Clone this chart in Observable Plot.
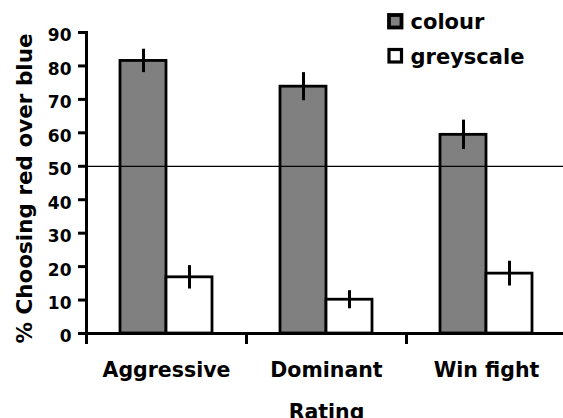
<!DOCTYPE html>
<html><head><meta charset="utf-8">
<script src="https://cdn.jsdelivr.net/npm/d3@7"></script>
<script src="https://cdn.jsdelivr.net/npm/@observablehq/plot@0.6"></script>
<style>body{margin:0;background:#fff}#chart{width:563px;height:418px}</style>
</head><body><div id="chart"></div>
<script>
const categories = ["Aggressive", "Dominant", "Win fight"];
const series = ["colour", "greyscale"];
const colourValues = [81.5, 73.8, 59.4];
const colourErrors = [3.5, 4.2, 4.4];
const greyscaleValues = [16.8, 10.1, 17.9];
const greyscaleErrors = [3.5, 2.7, 3.7];
const yTicks = [0, 10, 20, 30, 40, 50, 60, 70, 80, 90];
const referenceLine = [50];
const yLabel = "% Choosing red over blue";
const xLabel = "Rating";
const seriesColours = ["#808080", "#ffffff"];

const rows = categories.flatMap((c, i) => [
  {category: c, series: series[0], value: colourValues[i], err: colourErrors[i]},
  {category: c, series: series[1], value: greyscaleValues[i], err: greyscaleErrors[i]}
]);

const W = 563, H = 418, mTop = 32, mBottom = 85, mLeft = 85;
const innerH = H - mTop - mBottom;

const plot = Plot.plot({
  width: W, height: H,
  marginTop: mTop, marginBottom: mBottom, marginLeft: mLeft, marginRight: 0,
  style: {fontFamily: "'DejaVu Sans', sans-serif", fontWeight: "bold", background: "white", color: "black", overflow: "visible"},
  fx: {domain: categories, range: [85, 566], padding: 0, label: null, axis: null},
  x: {domain: series, paddingInner: 0, paddingOuter: 0.724, axis: null},
  y: {domain: [0, 90], axis: null},
  color: {domain: series, range: seriesColours},
  marks: [
    Plot.barY(rows, {fx: "category", x: "series", y: "value", fill: "series", stroke: "black", strokeWidth: 2.8}),
    Plot.ruleY(referenceLine, {stroke: "black", strokeWidth: 1.2}),
    Plot.ruleX(rows, {fx: "category", x: "series", y1: d => d.value - d.err, y2: d => d.value + d.err, stroke: "black", strokeWidth: 3}),
    Plot.ruleY([0], {stroke: "black", strokeWidth: 3}),
    Plot.frame({anchor: "left", stroke: "black", strokeWidth: 3, facetAnchor: "left"}),
    Plot.frame({anchor: "left", insetTop: innerH, insetBottom: -9, stroke: "black", strokeWidth: 3}),
    Plot.axisY({ticks: yTicks, tickSize: 8, tickFormat: () => "", strokeWidth: 3, label: null}),
    Plot.axisY({ticks: yTicks, tickSize: 0, tickPadding: 15, fontSize: 17, dy: 3.5, label: null}),
    Plot.text([yLabel], {fx: () => categories[0], text: d => d, frameAnchor: "left", textAnchor: "middle", rotate: -90, dx: -61.4, dy: 5.5, fontSize: 21.5, fontWeight: "bold", fill: "black"}),
    Plot.axisFx({anchor: "bottom", tickSize: 0, tickPadding: 29, fontSize: 20.5, label: null}),
    Plot.axisFx({anchor: "bottom", ticks: [], label: xLabel, labelAnchor: "center", labelArrow: "none", labelOffset: 85, fontSize: 20.5})
  ]
});

const svg = plot.tagName.toLowerCase() === "svg" ? plot : plot.querySelector("svg");
const lg = d3.select(svg).append("g")
  .attr("font-family", "'DejaVu Sans', sans-serif")
  .attr("font-weight", "bold")
  .attr("font-size", 21)
  .attr("text-anchor", "start");
series.forEach((s, i) => {
  const y0 = 15 + i * 34.5;
  lg.append("rect").attr("x", 389).attr("y", y0).attr("width", 12.5).attr("height", 12.5)
    .attr("fill", seriesColours[i]).attr("stroke", "black").attr("stroke-width", i === 0 ? 3.8 : 3.2);
  lg.append("text").attr("x", 410.5).attr("y", y0 + 14.3).attr("fill", "black").attr("text-anchor", "start").text(s);
});
document.getElementById("chart").appendChild(plot);
</script></body></html>
